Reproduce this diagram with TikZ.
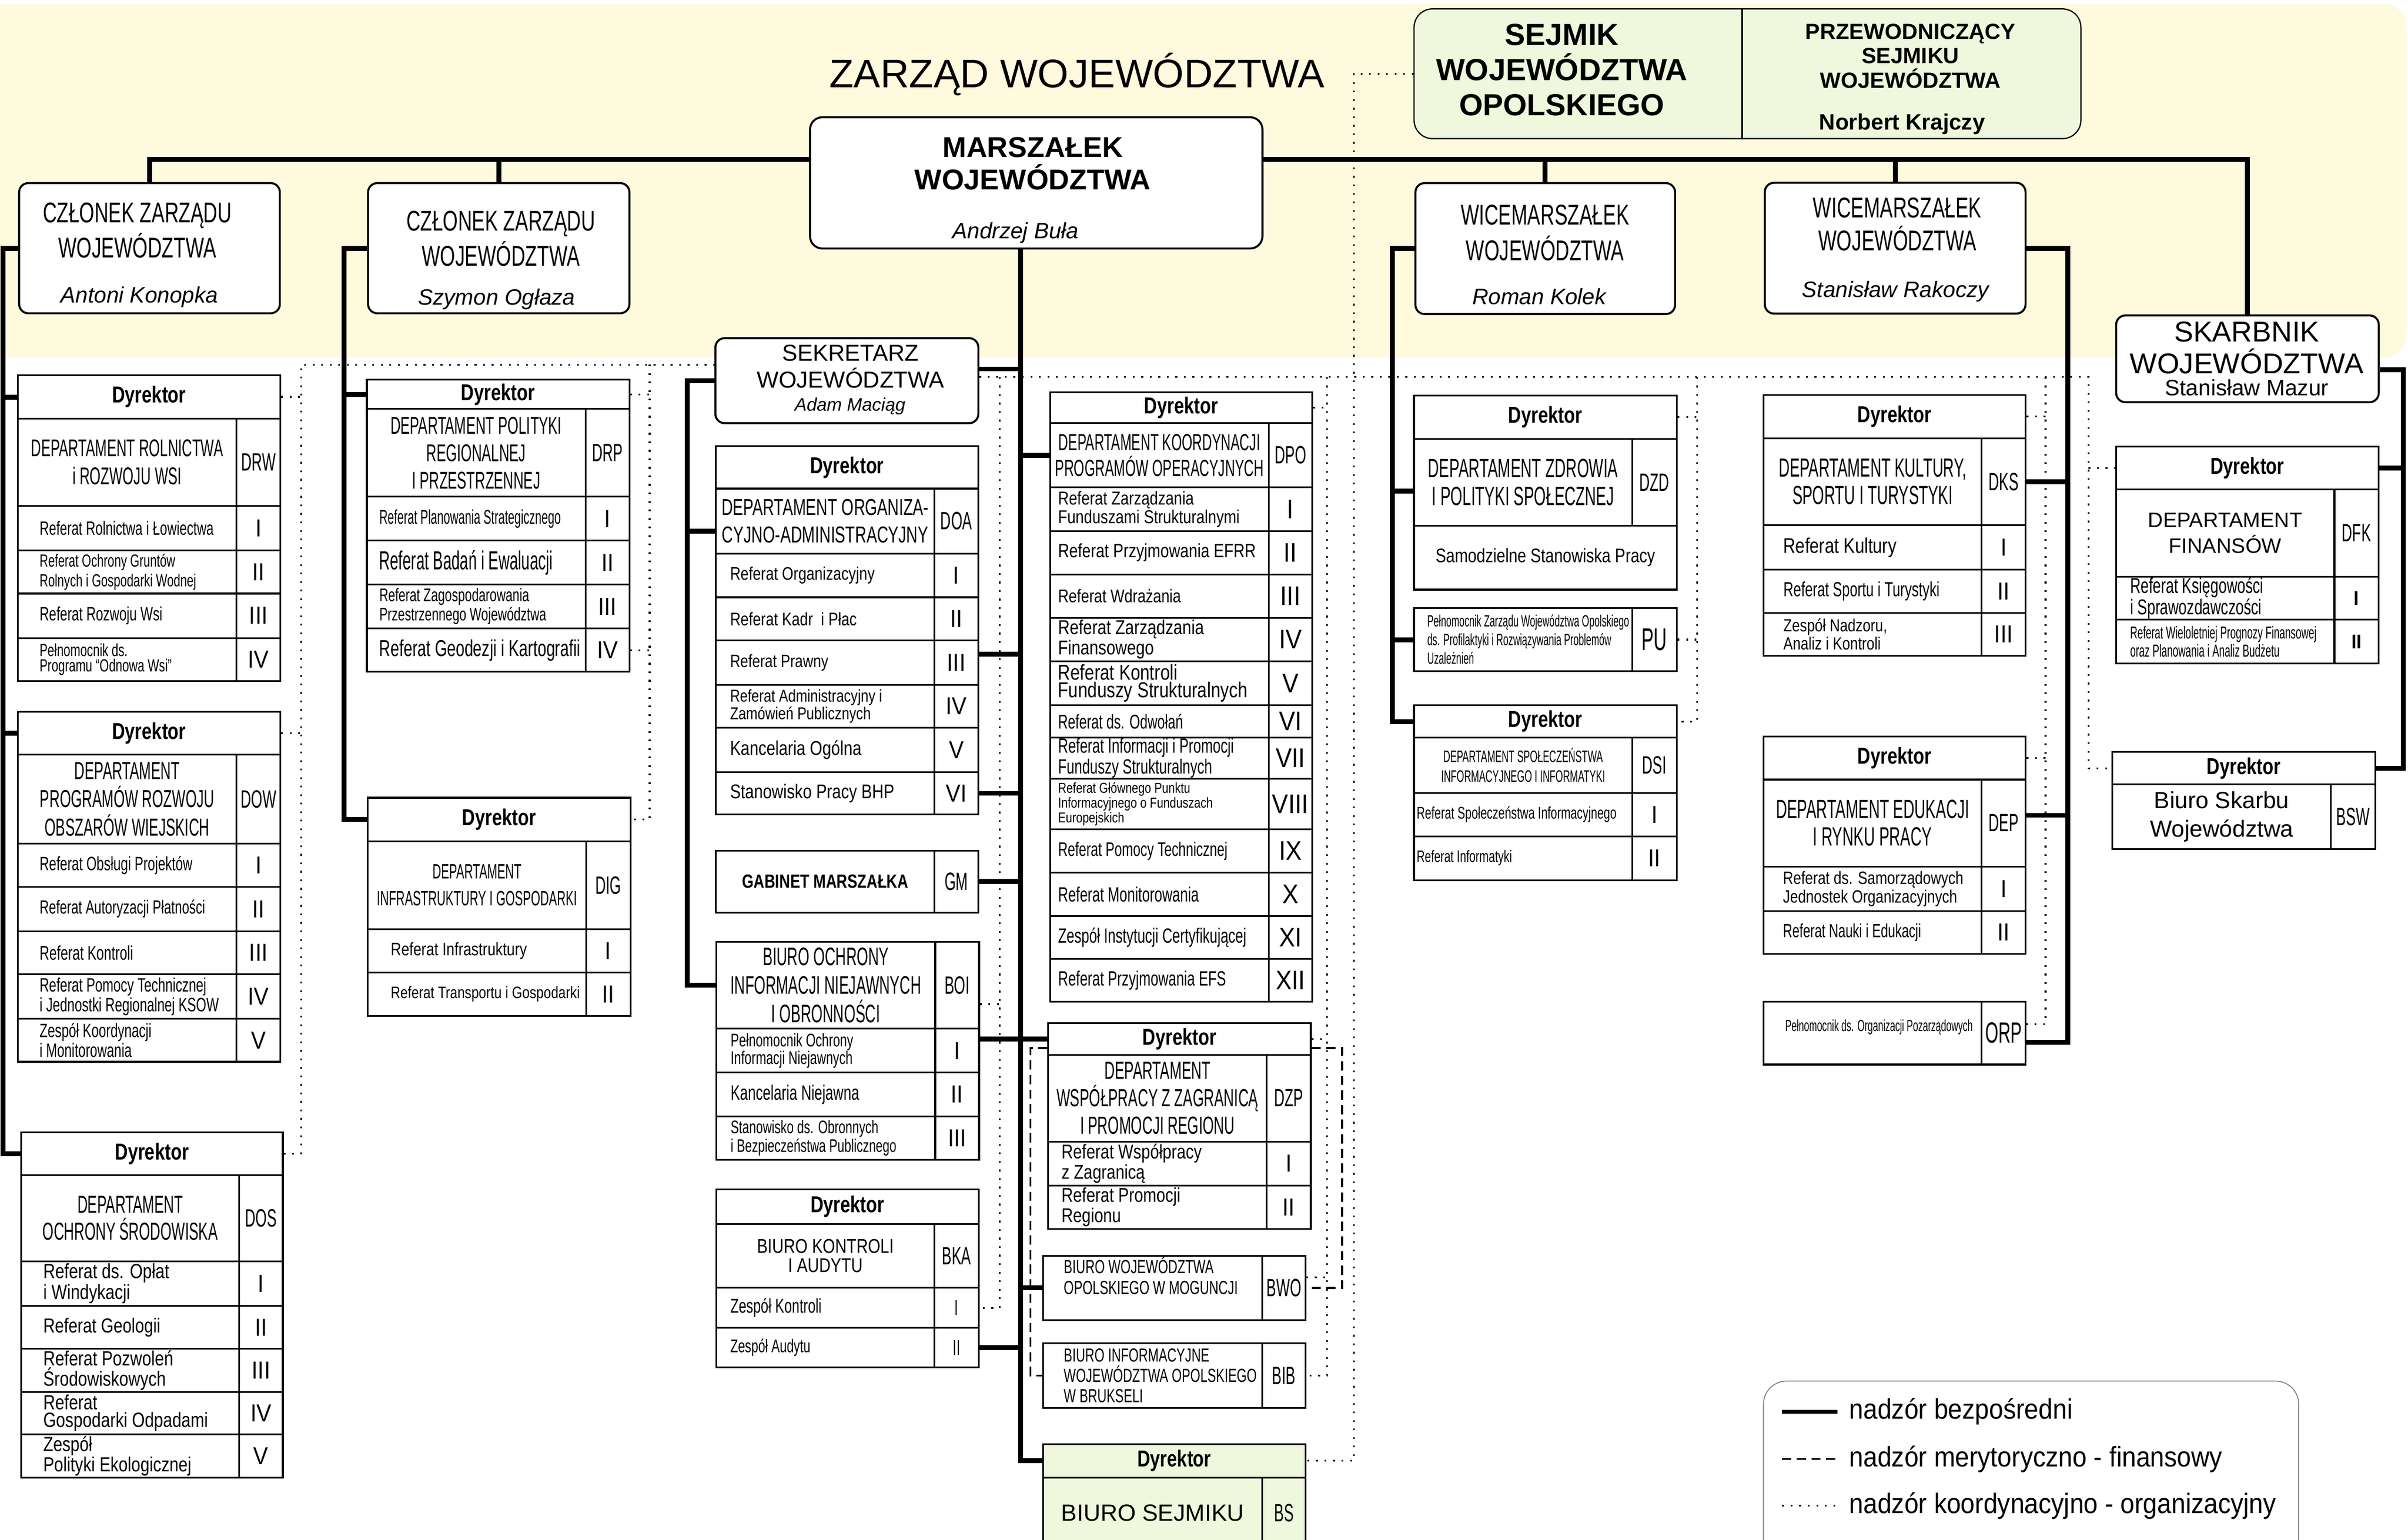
\documentclass[tikz,border=0pt]{standalone}
\usepackage{fontspec}
\usepackage{tikz}
\usetikzlibrary{backgrounds}
\setmainfont{Liberation Sans}
\newfontfamily\fntA{Liberation Sans}[FakeStretch=0.58]
\newfontfamily\fntB{Liberation Sans}[FakeStretch=0.68]
\newfontfamily\fntC{Liberation Sans}[FakeStretch=0.8]
\newfontfamily\fntN{Liberation Sans}[FakeStretch=0.9]
\newfontfamily\fntH{Liberation Sans}[FakeStretch=0.78]
\newcommand\fsz[2]{\fontsize{#1}{#2}\selectfont}
\newcommand\dyrfont{\fntH\bfseries\fsz{15}{16}}
\newcommand\codefont{\fntA\fsz{16.3}{18}}
\newcommand\numfont{\fntN\fsz{16}{18}}
\definecolor{zbg}{RGB}{254,250,222}
\definecolor{sejgreen}{RGB}{239,248,220}
\tikzset{cell box/.style={draw,line width=1.1pt,fill=white,inner sep=0pt},
  top box/.style={rounded corners=6pt,line width=1.3pt},
  ref text/.style={anchor=west,align=left,inner sep=0pt},
  title text/.style={align=center,font=\fntB\fsz{18.6}{23}},
  name text/.style={font=\itshape\fsz{14.5}{16}},
  leg text/.style={anchor=west,inner sep=0pt,font=\fntN\fsz{18.4}{20}},
  direct line/.style={line width=3.2pt},
  merit line/.style={line width=1.3pt,dash pattern=on 6pt off 3.5pt},
  coord line/.style={line width=1.15pt,dash pattern=on 1.15pt off 4.4pt},
}
% cell: name, x1, y1, x2, y2, options, text
\newcommand\tcell[7]{%
  \pgfmathsetmacro\tcw{#4-#2}\pgfmathsetmacro\tch{#5-#3}%
  \node[cell box,minimum width=\tcw pt,minimum height=\tch pt,anchor=north west,#6] (#1) at (#2,#3) {#7};}
\newcommand\dyr[5]{\tcell{#1-dyr}{#2}{#4}{#3}{#5}{font=\dyrfont}{Dyrektor}}
\newcommand\dname[9]{%
  \tcell{#1-name}{#2}{#5}{#3}{#6}{align=center,font={#7}}{#8}%
  \tcell{#1-code}{#3}{#5}{#4}{#6}{font=\codefont}{#9}}
\newcommand\rows[7]{%
  \foreach \ryt/\ryb/\rf/\rt/\rn in {#7}{%
    \tcell{#1-\rn}{#2}{\ryt}{#3}{\ryb}{}{}%
    \tcell{#1-\rn-c}{#3}{\ryt}{#4}{\ryb}{font={#6}}{\rn}%
    \node[ref text,font=\rf] (#1-\rn-t) at ([xshift=#5pt]#1-\rn.west) {\rt};}}
\begin{document}
\begin{tikzpicture}[x=1pt,y=-1pt]
\useasboundingbox (0,0) rectangle (1568,1003);
\begin{pgfonlayer}{background}
\fill[zbg,rounded corners=15pt] (-20,2.3) rectangle (1567,233);
\end{pgfonlayer}
%% zarzad
\node[font=\fsz{26}{28}] (zarzad) at (701.3,48.3) {ZARZĄD WOJEWÓDZTWA};
\tcell{marsz}{526.8}{75.7}{821.4}{161.2}{top box,rounded corners=8pt}{}
\node[align=center,font=\bfseries\fsz{18.7}{21}] (marsz-t) at (672.5,106.5) {MARSZAŁEK\\WOJEWÓDZTWA};
\node[name text] (marsz-n) at (661.3,151.5) {Andrzej Buła};
\tcell{sejmik}{920.4}{5.4}{1354.6}{89.9}{top box,rounded corners=12pt,line width=0.8pt,fill=sejgreen}{}
\draw[line width=0.8pt] (sejmik.north -| 1134.4,0) -- (sejmik.south -| 1134.4,0);
\node[align=center,font=\bfseries\fsz{19.9}{23}] (sejmik-l) at (1017,45.5) {SEJMIK\\WOJEWÓDZTWA\\OPOLSKIEGO};
\node[align=center,font=\bfseries\fsz{14.3}{16}] (sejmik-r) at (1244,36.5) {PRZEWODNICZĄCY\\SEJMIKU\\WOJEWÓDZTWA};
\node[font=\bfseries\fsz{14.5}{16}] (sejmik-n) at (1238.6,81) {Norbert Krajczy};
\tcell{czl1}{11.8}{118.6}{181.6}{203.4}{top box}{}
\node[title text] (czl1-t) at (89.4,150) {CZŁONEK ZARZĄDU\\WOJEWÓDZTWA};
\node[name text] (czl1-n) at (90.8,193.5) {Antoni Konopka};
\tcell{czl2}{239}{118.6}{409.2}{203.4}{top box}{}
\node[title text] (czl2-t) at (326.1,155.4) {CZŁONEK ZARZĄDU\\WOJEWÓDZTWA};
\node[name text] (czl2-n) at (323.4,195) {Szymon Ogłaza};
\tcell{wice1}{921}{118.6}{1090.1}{203.9}{top box}{}
\node[title text] (wice1-t) at (1006,151.7) {WICEMARSZAŁEK\\WOJEWÓDZTWA};
\node[name text] (wice1-n) at (1002.3,193) {Roman Kolek};
\tcell{wice2}{1148.5}{118.4}{1318.3}{203.6}{top box}{}
\node[title text,font=\fntB\fsz{18.6}{21.3}] (wice2-t) at (1235.5,146.2) {WICEMARSZAŁEK\\WOJEWÓDZTWA};
\node[name text] (wice2-n) at (1234.3,190) {Stanisław Rakoczy};
\tcell{skarb}{1377.3}{204.8}{1548.3}{261.3}{top box}{}
\node[align=center,font=\fsz{18.7}{20.7}] (skarb-t) at (1463,226.4) {SKARBNIK\\WOJEWÓDZTWA};
\node[font=\fsz{14.5}{16}] (skarb-n) at (1463,252.6) {Stanisław Mazur};
\tcell{sek}{465.2}{219.6}{636.4}{275}{top box}{}
\node[align=center,font=\fsz{15}{17.4}] (sek-t) at (553.9,238.6) {SEKRETARZ\\WOJEWÓDZTWA};
\node[font=\itshape\fsz{11.8}{13}] (sek-n) at (553.5,264.6) {Adam Maciąg};
%% Członek Zarządu - Antoni Konopka
\dyr{drw}{11}{182}{244}{272}
\dname{drw}{11}{153.5}{182}{272}{329}{\fntA\fsz{15.8}{18.5}}{DEPARTAMENT ROLNICTWA\\i ROZWOJU WSI}{DRW}
\rows{drw}{11}{153.5}{182}{14.6}{\numfont}{
  329/358/{\fntB\fsz{12.5}{13}}/{Referat Rolnictwa i Łowiectwa}/I,
  358/386/{\fntB\fsz{11.4}{12.8}}/{Referat Ochrony Gruntów\\Rolnych i Gospodarki Wodnej}/II,
  386/415/{\fntB\fsz{12.6}{13}}/{Referat Rozwoju Wsi}/III,
  415/443/{\fntB\fsz{11.5}{10}}/{Pełnomocnik ds.\\Programu “Odnowa Wsi”}/IV}
\dyr{dow}{11}{182}{463}{491}
\dname{dow}{11}{153.5}{182}{491}{549}{\fntA\fsz{16}{18.5}}{DEPARTAMENT\\PROGRAMÓW ROZWOJU\\OBSZARÓW WIEJSKICH}{DOW}
\rows{dow}{11}{153.5}{182}{14.6}{\numfont}{
  549/577/{\fntB\fsz{12.6}{13}}/{Referat Obsługi Projektów}/I,
  577/606/{\fntB\fsz{12.4}{13}}/{Referat Autoryzacji Płatności}/II,
  606/634/{\fntB\fsz{12.9}{13}}/{Referat Kontroli}/III,
  634/663/{\fntB\fsz{12.6}{12.8}}/{Referat Pomocy Technicznej\\i Jednostki Regionalnej KSOW}/IV,
  663/691/{\fntB\fsz{12.6}{12.8}}/{Zespół Koordynacji\\i Monitorowania}/V}
\dyr{dos}{13.2}{183.6}{737}{765}
\dname{dos}{13.2}{155.3}{183.6}{765}{821}{\fntA\fsz{16}{17.5}}{DEPARTAMENT\\OCHRONY ŚRODOWISKA}{DOS}
\rows{dos}{13.2}{155.3}{183.6}{14.8}{\numfont}{
  821/850/{\fntC\fsz{13.4}{11.5}}/{Referat ds. Opłat\\i Windykacji}/I,
  850/878/{\fntC\fsz{13.2}{13}}/{Referat Geologii}/II,
  878/906/{\fntC\fsz{13.4}{11.5}}/{Referat Pozwoleń\\Środowiskowych}/III,
  906/933.5/{\fntC\fsz{13.4}{11.5}}/{Referat\\Gospodarki Odpadami}/IV,
  933.5/962/{\fntC\fsz{13.3}{11.5}}/{Zespół\\Polityki Ekologicznej}/V}
%% Członek Zarządu - Szymon Ogłaza
\dyr{drp}{238.3}{409.3}{246.7}{265.8}
\dname{drp}{238.3}{380.7}{409.3}{265.8}{323}{\fntA\fsz{15.8}{17.9}}{DEPARTAMENT POLITYKI\\REGIONALNEJ\\I PRZESTRZENNEJ}{DRP}
\rows{drp}{238.3}{380.7}{409.3}{8.5}{\numfont}{
  323/351.6/{\fntA\fsz{13}{14}}/{Referat Planowania Strategicznego}/I,
  351.6/380.2/{\fntA\fsz{17}{18}}/{Referat Badań i Ewaluacji}/II,
  380.2/408.8/{\fntB\fsz{11.9}{12.5}}/{Referat Zagospodarowania\\Przestrzennego Województwa}/III,
  408.8/437/{\fntB\fsz{15}{16}}/{Referat Geodezji i Kartografii}/IV}
\dyr{dig}{239}{410}{519}{547.4}
\dname{dig}{239}{381}{410}{547.4}{604.6}{\fntA\fsz{13.5}{17.3}}{DEPARTAMENT\\INFRASTRUKTURY I GOSPODARKI}{DIG}
\rows{dig}{239}{381}{410}{15.3}{\numfont}{
  604.6/633/{\fntC\fsz{11.8}{13}}/{Referat Infrastruktury}/I,
  633/661/{\fntC\fsz{10.8}{12}}/{Referat Transportu i Gospodarki}/II}
%% Sekretarz
\dyr{doa}{465.6}{636.4}{290}{317.7}
\dname{doa}{465.6}{608}{636.4}{317.7}{360}{\fntB\fsz{15}{18}}{DEPARTAMENT ORGANIZA-\\CYJNO-ADMINISTRACYJNY}{DOA}
\rows{doa}{465.6}{608}{636.4}{9.6}{\numfont}{
  360/388.5/{\fntC\fsz{11.9}{13}}/{Referat Organizacyjny}/I,
  388.5/416.6/{\fntC\fsz{11.9}{13}}/{Referat Kadr\ \ i Płac}/II,
  416.6/445.4/{\fntC\fsz{11.6}{13}}/{Referat Prawny}/III,
  445.4/473.5/{\fntC\fsz{11.2}{11.4}}/{Referat Administracyjny i\\Zamówień Publicznych}/IV,
  473.5/502.3/{\fntC\fsz{13}{14}}/{Kancelaria Ogólna}/V,
  502.3/530/{\fntC\fsz{13}{14}}/{Stanowisko Pracy BHP}/VI}
\tcell{gm}{465.6}{553.4}{608}{593.9}{font=\fntH\bfseries\fsz{12.5}{14}}{GABINET MARSZAŁKA}
\tcell{gm-code}{608}{553.4}{636.4}{593.9}{font=\codefont}{GM}
\dname{boi}{466}{608.4}{637}{613}{669.5}{\fntA\fsz{16.5}{18.5}}{BIURO OCHRONY\\INFORMACJI NIEJAWNYCH\\I OBRONNOŚCI}{BOI}
\rows{boi}{466}{608.4}{637}{9.6}{\numfont}{
  669.5/698/{\fntB\fsz{12}{11.3}}/{Pełnomocnik Ochrony\\Informacji Niejawnych}/I,
  698/726.6/{\fntB\fsz{13.5}{14}}/{Kancelaria Niejawna}/II,
  726.6/754.7/{\fntB\fsz{11.8}{11}}/{Stanowisko ds. Obronnych\\i Bezpieczeństwa Publicznego}/III}
\dyr{bka}{465.8}{636.8}{774}{796.7}
\dname{bka}{465.8}{608}{636.8}{796.7}{838.3}{\fntC\fsz{13}{12.6}}{BIURO KONTROLI\\I AUDYTU}{BKA}
\rows{bka}{465.8}{608}{636.8}{9.6}{\fntA\fsz{14}{15}}{
  838.3/864.3/{\fntB\fsz{13.1}{14}}/{Zespół Kontroli}/I,
  864.3/890/{\fntB\fsz{12}{13}}/{Zespół Audytu}/II}
%% Marszałek
\dyr{dpo}{683.4}{854}{254.9}{275.1}
\dname{dpo}{683.4}{825.5}{854}{275.1}{316.8}{\fntA\fsz{15.2}{16.7}}{DEPARTAMENT KOORDYNACJI\\PROGRAMÓW OPERACYJNYCH}{DPO}
\rows{dpo}{683.4}{825.5}{854}{5.4}{\fntN\fsz{17.5}{18}}{
  316.8/345.3/{\fntC\fsz{12.2}{12.1}}/{Referat Zarządzania\\Funduszami Strukturalnymi}/I,
  345.3/373.6/{\fntC\fsz{12.6}{14}}/{Referat Przyjmowania EFRR}/II,
  373.6/401.8/{\fntC\fsz{12}{14}}/{Referat Wdrażania}/III,
  401.8/430/{\fntC\fsz{13.1}{11.3}}/{Referat Zarządzania\\Finansowego}/IV,
  430/458.9/{\fntC\fsz{14}{11.6}}/{Referat Kontroli\\Funduszy Strukturalnych}/V,
  458.9/479.8/{\fntB\fsz{13}{14}}/{Referat ds. Odwołań}/VI,
  479.8/506.7/{\fntB\fsz{13.4}{10.3}}/{Referat Informacji i Promocji\\Funduszy Strukturalnych}/VII,
  506.7/539.6/{\fntC\fsz{9.4}{8.5}}/{Referat Głównego Punktu\\Informacyjnego o Funduszach\\Europejskich}/VIII,
  539.6/567.8/{\fntB\fsz{12.8}{14}}/{Referat Pomocy Technicznej}/IX,
  567.8/596/{\fntB\fsz{13.4}{14}}/{Referat Monitorowania}/X,
  596/623.8/{\fntB\fsz{13.4}{14}}/{Zespół Instytucji Certyfikującej}/XI,
  623.8/651.9/{\fntB\fsz{13.4}{14}}/{Referat Przyjmowania EFS}/XII}
\dyr{dzp}{682}{853}{665.8}{686.4}
\dname{dzp}{682}{824.3}{853}{686.4}{743}{\fntA\fsz{16.1}{17.8}}{DEPARTAMENT\\WSPÓŁPRACY Z ZAGRANICĄ\\I PROMOCJI REGIONU}{DZP}
\rows{dzp}{682}{824.3}{853}{9}{\numfont}{
  743/771.6/{\fntC\fsz{13}{10.8}}/{Referat Współpracy\\z Zagranicą}/I,
  771.6/799.8/{\fntC\fsz{13}{10.6}}/{Referat Promocji\\Regionu}/II}
\tcell{bwo}{678.7}{817.4}{821.5}{859.2}{}{}
\node[ref text,font=\fntB\fsz{12.4}{13.6}] (bwo-t) at ([xshift=13.8pt,yshift=8pt]bwo.west) {BIURO WOJEWÓDZTWA\\OPOLSKIEGO W MOGUNCJI};
\tcell{bwo-code}{821.5}{817.4}{849.5}{859.2}{font=\codefont}{BWO}
\tcell{bib}{678.7}{874.3}{821.5}{916.5}{}{}
\node[ref text,font=\fntB\fsz{12.3}{13.2}] (bib-t) at ([xshift=13.8pt]bib.west) {BIURO INFORMACYJNE\\WOJEWÓDZTWA OPOLSKIEGO\\W BRUKSELI};
\tcell{bib-code}{821.5}{874.3}{849.5}{916.5}{font=\codefont}{BIB}
\tcell{bs-dyr}{678.7}{939.9}{849.5}{961.8}{font=\dyrfont,fill=sejgreen}{Dyrektor}
\tcell{bs}{678.7}{961.8}{821.5}{1008}{fill=sejgreen,font=\fsz{15.3}{17}}{BIURO SEJMIKU}
\tcell{bs-code}{821.5}{961.8}{849.5}{1008}{fill=sejgreen,font=\codefont}{BS}
%% Wicemarszałek - Roman Kolek
\dyr{dzd}{920.2}{1091.3}{257}{285.3}
\dname{dzd}{920.2}{1062.3}{1091.3}{285.3}{341.8}{\fntA\fsz{17.2}{18}}{DEPARTAMENT ZDROWIA\\I POLITYKI SPOŁECZNEJ}{DZD}
\tcell{dzd-ssp}{920.2}{341.8}{1091.3}{383.5}{font=\fntC\fsz{12.75}{14}}{Samodzielne Stanowiska Pracy}
\tcell{pu}{920.2}{395.6}{1062.3}{436.5}{}{}
\node[ref text,font=\fntA\fsz{10.6}{12.1}] (pu-t) at ([xshift=9pt]pu.west) {Pełnomocnik Zarządu Województwa Opolskiego\\ds. Profilaktyki i Rozwiązywania Problemów\\Uzależnień};
\tcell{pu-code}{1062.3}{395.6}{1091.3}{436.5}{font=\fntA\fsz{20.5}{21}}{PU}
\dyr{dsi}{920.2}{1091.3}{458.9}{479.8}
\dname{dsi}{920.2}{1062.3}{1091.3}{479.8}{515.9}{\fntA\fsz{10.8}{12.9}}{DEPARTAMENT SPOŁECZEŃSTWA\\INFORMACYJNEGO I INFORMATYKI}{DSI}
\rows{dsi}{920.2}{1062.3}{1091.3}{2.1}{\numfont}{
  515.9/544.1/{\fntB\fsz{11}{12}}/{Referat Społeczeństwa Informacyjnego}/I,
  544.1/572.7/{\fntB\fsz{10.8}{12}}/{Referat Informatyki}/II}
%% Wicemarszałek - Stanisław Rakoczy
\dyr{dks}{1147.8}{1318.5}{256.7}{284.9}
\dname{dks}{1147.8}{1289.8}{1318.5}{284.9}{341.6}{\fntA\fsz{17}{18}}{DEPARTAMENT KULTURY,\\SPORTU I TURYSTYKI}{DKS}
\rows{dks}{1147.8}{1289.8}{1318.5}{13.3}{\numfont}{
  341.6/370.4/{\fntC\fsz{13.8}{14}}/{Referat Kultury}/I,
  370.4/398.6/{\fntB\fsz{13.3}{14}}/{Referat Sportu i Turystyki}/II,
  398.6/426.5/{\fntC\fsz{11.5}{12.1}}/{Zespół Nadzoru,\\Analiz i Kontroli}/III}
\dyr{dep}{1147.8}{1318.5}{479}{507.2}
\dname{dep}{1147.8}{1289.8}{1318.5}{507.2}{563.9}{\fntA\fsz{17.2}{18}}{DEPARTAMENT EDUKACJI\\I RYNKU PRACY}{DEP}
\rows{dep}{1147.8}{1289.8}{1318.5}{13}{\numfont}{
  563.9/592.7/{\fntC\fsz{11.6}{12.1}}/{Referat ds. Samorządowych\\Jednostek Organizacyjnych}/I,
  592.7/620.6/{\fntB\fsz{12.4}{14}}/{Referat Nauki i Edukacji}/II}
\tcell{orp}{1147.8}{651.8}{1289.8}{692.8}{}{}
\node[ref text,font=\fntA\fsz{10.5}{12}] (orp-t) at ([xshift=14.5pt,yshift=4pt]orp.west) {Pełnomocnik ds. Organizacji Pozarządowych};
\tcell{orp-code}{1289.8}{651.8}{1318.5}{692.8}{font=\fntA\fsz{19}{20}}{ORP}
%% Skarbnik
\dyr{dfk}{1377.3}{1548.3}{290.3}{318.3}
\dname{dfk}{1377.3}{1519.5}{1548.3}{318.3}{375.1}{\fsz{13.6}{17.1}}{DEPARTAMENT\\FINANSÓW}{DFK}
\rows{dfk}{1377.3}{1519.5}{1548.3}{9.6}{\fntN\bfseries\fsz{13}{14}}{
  375.1/403.1/{\fntB\fsz{14}{11.4}}/{Referat Księgowości\\i Sprawozdawczości}/I,
  403.1/431.6/{\fntA\fsz{11.3}{12.1}}/{Referat Wieloletniej Prognozy Finansowej\\oraz Planowania i Analiz Budżetu}/II}
\dyr{bsw}{1375}{1546}{489.3}{510.3}
\dname{bsw}{1375}{1517.3}{1546}{510.3}{552.5}{\fsz{15.2}{18.7}}{Biuro Skarbu\\Województwa}{BSW}
%% connectors
\begin{pgfonlayer}{background}
\coordinate (bus) at (0,104);
\draw[direct line] (czl1.north) -- (czl1.north |- bus) -| (skarb.north);
\foreach \nm in {czl2,wice1,wice2} \draw[direct line] (\nm.north) -- (\nm.north |- bus);
\coordinate (lb) at (1.8,0);
\draw[direct line] (czl1.west) -| (lb |- dos-dyr.west) -- (dos-dyr.west);
\foreach \nm in {drw,dow} \draw[direct line] (lb |- \nm-dyr.west) -- (\nm-dyr.west);
\coordinate (cb) at (224,0);
\draw[direct line] (czl2.west) -| (cb |- dig-dyr.west) -- (dig-dyr.west);
\draw[direct line] (cb |- drp-dyr.west) -- (drp-dyr.west);
\coordinate (mb) at (664.5,0);
\draw[direct line] (marsz.south -| mb) -- (mb |- bs-dyr.west) -- (bs-dyr.west);
\draw[direct line] (sek.east |- 0,240.3) -- (mb |- 0,240.3);
\draw[direct line] (dpo-name.west) -- (mb |- dpo-name.west);
\draw[direct line] (doa-III-c.east |- 0,426) -- (mb |- 0,426);
\draw[direct line] (doa-VI-c.east) -- (mb |- doa-VI-c.east);
\draw[direct line] (gm-code.east) -- (mb |- gm-code.east);
\draw[direct line] (boi-I-c.east |- dzp-dyr.west) -- (dzp-dyr.west);
\draw[direct line] (mb |- bwo.west) -- (bwo.west);
\draw[direct line] (bka-II-c.east) -- (mb |- bka-II-c.east);
\coordinate (sb) at (447.5,0);
\draw[direct line] (sek.west) -| (sb |- boi-name.west) -- (boi-name.west);
\draw[direct line] (sb |- 0,346) -- (doa-name.west |- 0,346);
\coordinate (wb) at (906.5,0);
\draw[direct line] (wice1.west) -| (wb |- dsi-dyr.west) -- (dsi-dyr.west);
\draw[direct line] (wb |- 0,320) -- (dzd-name.west |- 0,320);
\draw[direct line] (wb |- pu.west) -- (pu.west);
\coordinate (vb) at (1346.5,0);
\draw[direct line] (wice2.east) -| (vb |- 0,679) -- (orp-code.east |- 0,679);
\draw[direct line] (vb |- dks-code.east) -- (dks-code.east);
\draw[direct line] (vb |- 0,531) -- (dep-code.east |- 0,531);
\coordinate (kb) at (1565,0);
\draw[direct line] (skarb.east |- 0,241) -| (kb |- bsw-dyr.east) -- (bsw-dyr.east);
\draw[direct line] (kb |- dfk-dyr.east) -- (dfk-dyr.east);
%% dotted
\coordinate (ka) at (196,237.5);
\draw[coord line] (ka |- dos-dyr.east) -- (ka) -- (sek.west |- ka);
\foreach \nm in {drw,dow,dos} \draw[coord line] (\nm-dyr.east) -- (ka |- \nm-dyr.east);
\coordinate (kc) at (423,237.5);
\draw[coord line] (kc) |- (dig-dyr.east);
\foreach \nm in {drp-dyr,drp-IV-c} \draw[coord line] (\nm.east) -- (kc |- \nm.east);
\coordinate (kr) at (1360,245.6);
\draw[coord line] (sek.east |- kr) -- (kr) |- (bsw-dyr.west);
\draw[coord line] (kr |- dfk-dyr.west) -- (dfk-dyr.west);
\coordinate (kd) at (651,245.6);
\draw[coord line] (kd) |- (bka-I-c.east);
\draw[coord line] (boi-code.east |- 0,654) -- (kd |- 0,654);
\coordinate (ke) at (864,245.6);
\draw[coord line] (ke) |- (bib-code.east);
\foreach \nm in {dpo-dyr,dzp-dyr} \draw[coord line] (\nm.east) -- (ke |- \nm.east);
\draw[coord line] (bwo-code.east |- 0,832) -- (ke |- 0,832);
\coordinate (kf) at (881.5,0);
\draw[coord line] (sejmik.west) -| (kf |- bs-dyr.east) -- (bs-dyr.east);
\coordinate (kg) at (1105,245.6);
\draw[coord line] (kg) |- (dsi-dyr.east);
\foreach \nm in {dzd-dyr,pu-code} \draw[coord line] (\nm.east) -- (kg |- \nm.east);
\coordinate (kh) at (1332,245.6);
\draw[coord line] (kh) |- (orp-code.east |- 0,667);
\foreach \nm in {dks-dyr,dep-dyr} \draw[coord line] (\nm.east) -- (kh |- \nm.east);
%% dashed
\coordinate (ma) at (874,0);
\coordinate (mc) at (671,0);
\draw[merit line] ([yshift=-6pt]dzp-dyr.east) -| (ma |- bwo-code.east) -- (bwo-code.east);
\draw[merit line] ([yshift=-6pt]dzp-dyr.west) -| (mc |- bib.west) -- (bib.west);
\end{pgfonlayer}
%% legend
\tcell{legend}{1148}{899.2}{1496.5}{1020}{rounded corners=15pt,line width=0.6pt,draw=gray}{}
\coordinate (la1) at (1160.5,919.4); \coordinate (lb1) at (1196.3,919.4);
\coordinate (la2) at (1160.5,950.3); \coordinate (lb2) at (1196.3,950.3);
\coordinate (la3) at (1160.5,980.7); \coordinate (lb3) at (1196.3,980.7);
\draw[direct line,line width=2.6pt] (la1) -- (lb1);
\draw[merit line] (la2) -- (lb2);
\draw[coord line] (la3) -- (lb3);
\node[leg text] (leg1) at (1204,919.4) {nadzór bezpośredni};
\node[leg text] (leg2) at (1204,950.3) {nadzór merytoryczno - finansowy};
\node[leg text] (leg3) at (1204,980.7) {nadzór koordynacyjno - organizacyjny};
\end{tikzpicture}
\end{document}
